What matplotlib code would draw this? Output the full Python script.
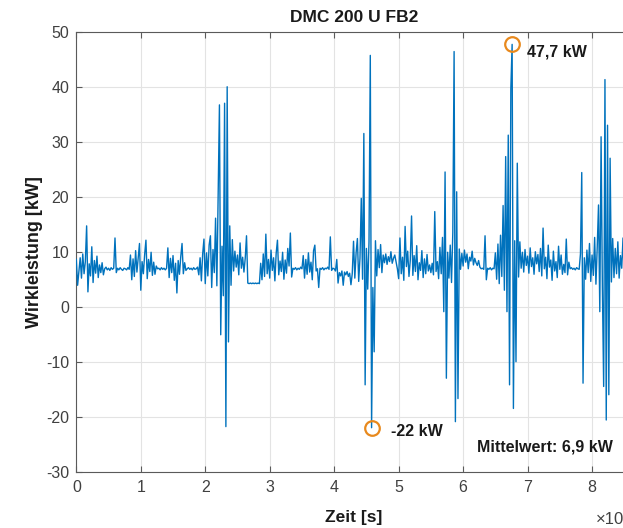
import numpy as np
import matplotlib
matplotlib.use("Agg")
import matplotlib.pyplot as plt

plt.rcParams['font.family'] = ['Liberation Sans', 'DejaVu Sans']
plt.rcParams['axes.unicode_minus'] = False

leistung = [
    8.6, 3.9, 6.5, 8.9, 5.2, 9.6, 6.0, 8.2, 14.7, 2.7,
    7.8, 5.6, 10.9, 4.4, 8.4, 6.1, 9.2, 5.3, 7.6, 6.2,
    8.0, 5.8, 6.9, 7.2, 6.7, 7.0, 6.6, 7.1, 6.8, 7.0,
    12.5, 6.2, 7.0, 6.7, 7.1, 6.8, 6.6, 7.0, 6.9, 6.7,
    7.1, 6.8, 9.4, 4.9, 8.7, 5.5, 10.2, 6.3, 8.8, 11.5,
    3.0, 8.2, 6.0, 9.5, 12.1, 5.1, 8.6, 6.4, 9.9, 5.7,
    8.1, 5.9, 7.4, 6.9, 7.0, 6.7, 7.1, 6.8, 7.0, 6.7,
    7.0, 10.7, 5.3, 8.8, 6.2, 9.3, 4.8, 7.9, 2.5, 8.4,
    5.9, 9.1, 11.5, 6.0, 8.0, 6.6, 6.9, 7.1, 6.8, 7.0,
    6.7, 7.1, 6.8, 6.9, 7.2, 5.8, 8.9, 4.7, 9.6, 12.3,
    4.2, 9.8, 5.6, 11.2, 12.9, 3.5, 10.4, 6.2, 16.1, 3.8,
    19.8, 36.7, -5.1, 11.0, 2.0, 37.0, -21.8, 40.0, -6.4, 14.7,
    3.9, 12.2, 6.5, 10.1, 7.2, 9.4, 5.8, 11.6, 7.0, 9.0,
    6.3, 8.8, 12.9, 4.3, 4.2, 4.3, 4.2, 4.3, 4.2, 4.3,
    4.2, 4.3, 4.2, 7.9, 4.9, 9.6, 5.5, 13.2, 6.0, 8.6,
    5.2, 10.3, 6.6, 8.9, 4.7, 9.7, 12.1, 5.8, 8.3, 6.4,
    9.9, 5.0, 8.5, 6.1, 10.6, 7.4, 13.4, 5.4, 7.0, 6.8,
    7.1, 6.7, 7.0, 6.8, 7.2, 6.9, 9.3, 5.2, 8.6, 5.9,
    9.8, 6.3, 8.1, 4.9, 10.2, 11.2, 6.5, 6.9, 3.5, 7.0,
    6.8, 7.1, 6.7, 7.0, 6.9, 7.2, 6.8, 12.7, 6.6, 7.0,
    6.9, 6.5, 8.6, 4.3, 6.2, 5.6, 6.5, 3.9, 6.3, 5.8,
    6.4, 5.5, 6.1, 4.0, 6.0, 11.9, 5.2, 9.8, 12.4, 4.6,
    8.8, 19.7, 5.0, 31.5, -14.2, 10.6, 3.2, 11.8, 45.7, -22.0,
    3.5, -8.2, 12.0, 5.6, 10.4, 7.1, 11.3, 6.2, 9.4, 8.0,
    9.6, 7.7, 9.1, 8.2, 10.0, 7.9, 8.8, 9.4, 8.1, 6.9,
    5.1, 12.5, 6.0, 9.0, 4.8, 14.6, 7.3, 10.1, 5.5, 8.4,
    16.5, 5.7, 9.3, 6.4, 11.1, 4.9, 8.0, 6.6, 10.2, 5.3,
    8.7, 6.0, 9.5, 6.5, 7.6, 6.2, 7.9, 5.8, 17.3, 6.4,
    8.2, 5.1, 10.8, 6.0, 12.6, -0.9, 24.5, -13.0, 9.9, 5.2,
    11.2, 4.4, 13.5, 46.4, -20.9, 20.9, -16.7, 10.5, 6.8, 9.7,
    7.4, 10.3, 8.1, 9.6, 6.9, 9.0, 8.3, 10.1, 7.6, 8.8,
    8.0, 7.5, 8.4, 7.2, 6.9, 7.0, 6.8, 12.9, 4.9, 7.0,
    6.8, 7.1, 6.7, 7.0, 6.9, 9.8, 5.0, 11.4, 4.2, 13.0,
    5.5, 18.4, 3.0, 27.3, -0.9, 31.2, -14.2, 39.7, 47.7, -18.5,
    12.0, -10.0, 26.1, 5.4, 11.8, 7.0, 9.9, 6.3, 10.4, 7.5,
    9.2, 6.1, 10.7, 7.3, 8.9, 5.9, 10.0, 7.8, 9.5, 6.4,
    10.6, 5.6, 14.3, 6.9, 9.0, 5.1, 11.2, 7.2, 8.5, 4.8,
    10.1, 6.5, 8.2, 5.3, 11.0, 6.8, 9.4, 5.9, 7.7, 6.2,
    12.3, 5.8, 8.1, 6.9, 7.1, 6.8, 7.0, 6.7, 7.1, 6.9,
    6.8, 9.6, 24.4, -13.9, 8.9, 5.0, 10.3, 6.2, 11.5, 4.6,
    9.4, 5.7, 12.6, 4.1, 10.8, 18.5, -0.9, 30.9, 3.5, -14.5,
    41.3, -20.6, 33.0, -16.0, 27.0, 4.5, 12.4, 5.3, 10.6, 6.0,
    11.8, 5.2, 9.3, 7.0, 12.5, 4.7, 9.9, 6.6, 10.8, 5.5,
    8.2,
]
zeit = np.linspace(0, 8.6, len(leistung))

x_ticks = [0, 1, 2, 3, 4, 5, 6, 7, 8]
y_ticks = [-30, -20, -10, 0, 10, 20, 30, 40, 50]

titel = "DMC 200 U FB2"
mittelwert_text = "Mittelwert: 6,9 kW"

blau = '#0072BD'
orange = '#E8891D'
grau = '#404040'

fig = plt.figure(figsize=(6.23, 5.28), dpi=100)
# Achse reicht rechts ueber das Bild hinaus (Ausschnitt wie im Original)
ax = fig.add_axes([0.1225, 0.1066, 0.892, 0.8333])

ax.plot(zeit, leistung, color=blau, linewidth=1.0, zorder=3)

i_max = int(np.argmax(leistung))
i_min = int(np.argmin(leistung))
ax.plot([zeit[i_max], zeit[i_min]], [leistung[i_max], leistung[i_min]], 'o',
        markersize=10.5, markerfacecolor='none', markeredgecolor=orange,
        markeredgewidth=1.6, zorder=4)

ax.text(zeit[i_max] + 0.23, leistung[i_max] - 1.3, "{:.1f} kW".format(leistung[i_max]).replace('.', ','),
        fontsize=11.5, fontweight='bold', va='center', ha='left', color='#1a1a1a')
ax.text(zeit[i_min] + 0.3, leistung[i_min] - 0.6, "{:.0f} kW".format(leistung[i_min]),
        fontsize=11.5, fontweight='bold', va='center', ha='left', color='#1a1a1a')
ax.text(6.22, -25.5, mittelwert_text, fontsize=11.5, fontweight='bold',
        va='center', ha='left', color='#1a1a1a')

ax.set_xlim(0, 8.62)
ax.set_ylim(-30, 50)
ax.set_xticks(x_ticks)
ax.set_yticks(y_ticks)
ax.grid(True, color='#e3e3e3', linewidth=0.8, zorder=0)
ax.set_axisbelow(True)

ax.tick_params(direction='in', length=4, width=0.8, colors='#5a5a5a',
               labelcolor=grau, labelsize=11.5, top=True, right=True)
ax.tick_params(axis='x', pad=6)
ax.tick_params(axis='y', pad=5)
for s in ax.spines.values():
    s.set_color('#5a5a5a')
    s.set_linewidth(0.8)

ax.set_title(titel, fontsize=12.5, fontweight='bold', pad=7, color='#1a1a1a')
ax.set_xlabel("Zeit [s]", fontsize=12.5, fontweight='bold', labelpad=11, color='#1a1a1a')
ax.set_ylabel("Wirkleistung [kW]", fontsize=13, fontweight='bold', labelpad=2, color='#1a1a1a')

# Exponent der x-Achse, im Original am Bildrand abgeschnitten
fig.text(596 / 623, 1 - 519 / 528, "\u00d710", fontsize=12, color=grau, va='center', ha='left')

fig.savefig("out.png", dpi=100)
